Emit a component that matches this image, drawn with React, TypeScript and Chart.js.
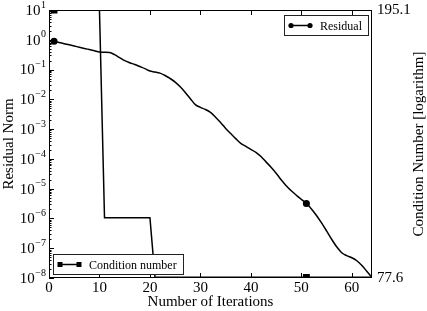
import React, { useEffect, useRef } from 'react';
import { Chart, registerables } from 'chart.js';

Chart.register(...registerables);

const iterations = [
  1, 2, 3, 4, 5, 6, 7, 8, 9, 10, 11, 12, 13, 14, 15, 16, 17, 18, 19, 20,
  21, 22, 23, 24, 25, 26, 27, 28, 29, 30, 31, 32, 33, 34, 35, 36, 37, 38, 39, 40,
  41, 42, 43, 44, 45, 46, 47, 48, 49, 50, 51, 52, 53, 54, 55, 56, 57, 58, 59, 60,
  61, 62, 63, 64,
];

const residual = [
  0.891, 0.813, 0.741, 0.676, 0.617, 0.562, 0.513, 0.468, 0.427, 0.389,
  0.380, 0.372, 0.316, 0.251, 0.200, 0.170, 0.148, 0.126, 0.107, 0.0891,
  0.0832, 0.0759, 0.0631, 0.0501, 0.0380, 0.0263, 0.0170, 0.0105, 6.61e-3, 5.37e-3,
  4.57e-3, 3.63e-3, 2.51e-3, 1.66e-3, 1.05e-3, 7.08e-4, 4.79e-4, 3.31e-4, 2.63e-4, 2.09e-4,
  1.66e-4, 1.20e-4, 7.94e-5, 5.25e-5, 3.31e-5, 2.0e-5, 1.26e-5, 8.51e-6, 6.03e-6, 4.37e-6,
  3.16e-6, 2.09e-6, 1.26e-6, 7.08e-7, 3.80e-7, 2.0e-7, 1.12e-7, 7.08e-8, 5.62e-8, 4.79e-8,
  3.80e-8, 2.63e-8, 1.66e-8, 1.05e-8,
];

const conditionNumber = [
  195.1, 195.1, 195.1, 195.1, 195.1, 195.1, 195.1, 195.1, 195.1, 195.1,
  104.0, 104.0, 104.0, 104.0, 104.0, 104.0, 104.0, 104.0, 104.0, 104.0,
  77.9, 77.9, 77.9, 77.9, 77.9, 77.9, 77.9, 77.9, 77.9, 77.9,
  77.9, 77.9, 77.9, 77.9, 77.9, 77.9, 77.9, 77.9, 77.9, 77.9,
  77.9, 77.9, 77.9, 77.9, 77.9, 77.9, 77.9, 77.9, 77.9, 77.9,
  77.9, 77.9, 77.9, 77.9, 77.9, 77.9, 77.9, 77.9, 77.9, 77.9,
  77.9, 77.9, 77.9, 77.9,
];

const markerIndices = [0, 50];
const xTicks = [0, 10, 20, 30, 40, 50, 60];
const residualExponents = [1, 0, -1, -2, -3, -4, -5, -6, -7, -8];
const residualMin = 1e-8;
const residualMax = 10;
const conditionTicks = [77.6, 195.1];
const rightTitle = 'Condition Number [logarithm]';

const FONT = "'Liberation Serif', 'DejaVu Serif', serif";

const overlayPlugin = {
  id: 'overlay',
  afterDraw(chart: any) {
    const ctx = chart.ctx as CanvasRenderingContext2D;
    const { left, right, top, bottom } = chart.chartArea;
    const xs = chart.scales.x;
    const ys = chart.scales.y;
    ctx.save();
    ctx.strokeStyle = '#000';
    ctx.lineWidth = 1;
    ctx.strokeRect(Math.round(left) + 0.5, Math.round(top) + 0.5, Math.round(right - left) - 1, Math.round(bottom - top) - 1);

    ctx.beginPath();
    for (const v of xTicks) {
      const px = Math.round(xs.getPixelForValue(v)) + 0.5;
      ctx.moveTo(px, bottom);
      ctx.lineTo(px, bottom - 5);
      ctx.moveTo(px, top);
      ctx.lineTo(px, top + 5);
    }
    for (let i = 0; i < residualExponents.length; i++) {
      const e = residualExponents[i];
      const base = Math.pow(10, e);
      const py = Math.round(ys.getPixelForValue(base)) + 0.5;
      ctx.moveTo(left, py);
      ctx.lineTo(left + 5, py);
      if (e < 1) {
        for (let m = 2; m <= 9; m++) {
          const pm = Math.round(ys.getPixelForValue(base * m)) + 0.5;
          ctx.moveTo(left, pm);
          ctx.lineTo(left + 2.5, pm);
        }
      }
    }
    ctx.stroke();

    ctx.fillStyle = '#000';
    for (const e of residualExponents) {
      const py = ys.getPixelForValue(Math.pow(10, e));
      const expText = e < 0 ? '\u2212' + String(-e) : String(e);
      ctx.font = `10px ${FONT}`;
      const ew = ctx.measureText(expText).width;
      const xEnd = left - 3;
      ctx.textAlign = 'right';
      ctx.textBaseline = 'middle';
      ctx.fillText(expText, xEnd, py - 5);
      ctx.font = `15px ${FONT}`;
      ctx.fillText('10', xEnd - ew - 0.5, py + 1);
    }

    // right axis title, reading bottom to top
    ctx.save();
    ctx.translate(419, (top + bottom) / 2);
    ctx.rotate(-Math.PI / 2);
    ctx.font = `15px ${FONT}`;
    ctx.textAlign = 'center';
    ctx.textBaseline = 'middle';
    ctx.fillText(rightTitle, 0, 0);
    ctx.restore();

    const drawLegend = (bx: number, by: number, label: string, style: 'circle' | 'rect', anchorRight: boolean) => {
      ctx.font = `12px ${FONT}`;
      const tw = ctx.measureText(label).width;
      const w = 8 + 18 + 10 + tw + 6;
      const h = 20;
      const x0 = anchorRight ? bx - w : bx;
      ctx.strokeStyle = '#222';
      ctx.lineWidth = 1;
      ctx.fillStyle = '#fff';
      ctx.fillRect(Math.round(x0) + 0.5, Math.round(by) + 0.5, Math.round(w), h);
      ctx.strokeRect(Math.round(x0) + 0.5, Math.round(by) + 0.5, Math.round(w), h);
      const ly = Math.round(by + h / 2) + 0.5;
      const lx1 = x0 + 7;
      const lx2 = x0 + 26;
      ctx.strokeStyle = '#000';
      ctx.lineWidth = 1.5;
      ctx.beginPath();
      ctx.moveTo(lx1, ly);
      ctx.lineTo(lx2, ly);
      ctx.stroke();
      ctx.fillStyle = '#000';
      for (const mx of [lx1, lx2]) {
        if (style === 'circle') {
          ctx.beginPath();
          ctx.arc(mx, ly, 2.6, 0, Math.PI * 2);
          ctx.fill();
        } else {
          ctx.fillRect(mx - 2.5, ly - 2.5, 5, 5);
        }
      }
      ctx.textAlign = 'left';
      ctx.textBaseline = 'middle';
      ctx.fillText(label, x0 + 36, ly + 1);
    };
    drawLegend(right - 4, top + 5, 'Residual', 'circle', true);
    drawLegend(left + 4, bottom - 24, 'Condition number', 'rect', false);
    ctx.restore();
  },
};

const noPad = (s: any) => {
  s.paddingTop = 0;
  s.paddingBottom = 0;
  s.paddingLeft = 0;
  s.paddingRight = 0;
};

export default function App() {
  const canvasRef = useRef<HTMLCanvasElement | null>(null);

  useEffect(() => {
    if (!canvasRef.current) return;
    const circleRadius = (c: any) => (markerIndices.includes(c.dataIndex) ? 2.8 : 0);
    const squareRadius = (c: any) => (markerIndices.includes(c.dataIndex) ? 3.8 : 0);
    const chart = new Chart(canvasRef.current, {
      type: 'line',
      data: {
        datasets: [
          {
            label: 'Residual',
            data: iterations.map((x, i) => ({ x, y: residual[i] })),
            yAxisID: 'y',
            borderColor: '#000',
            backgroundColor: '#000',
            borderWidth: 1.5,
            pointRadius: circleRadius,
            pointHoverRadius: 0,
            pointStyle: 'circle',
            cubicInterpolationMode: 'monotone',
          },
          {
            label: 'Condition number',
            data: iterations.map((x, i) => ({ x, y: conditionNumber[i] })),
            yAxisID: 'y2',
            borderColor: '#000',
            backgroundColor: '#000',
            borderWidth: 1.5,
            pointRadius: squareRadius,
            pointHoverRadius: 0,
            pointStyle: 'rect',
            tension: 0,
          },
        ],
      },
      options: {
        animation: false,
        responsive: false,
        maintainAspectRatio: false,
        events: [],
        layout: { padding: { top: 10, left: 0, right: 0, bottom: 0 } },
        plugins: { legend: { display: false }, tooltip: { enabled: false } },
        scales: {
          x: {
            type: 'linear',
            min: 0,
            max: 64,
            afterBuildTicks: (s: any) => {
              s.ticks = xTicks.map((v) => ({ value: v }));
            },
            afterFit: (s: any) => {
              s.height = 33;
              noPad(s);
            },
            ticks: {
              font: { family: FONT, size: 15 },
              color: '#000',
              padding: 1,
              maxRotation: 0,
              autoSkip: false,
            },
            grid: { display: false, drawTicks: false, tickLength: 0 },
            border: { display: false },
            title: {
              display: true,
              text: 'Number of Iterations',
              color: '#000',
              font: { family: FONT, size: 15 },
              padding: { top: 0, bottom: 0 },
            },
          },
          y: {
            type: 'logarithmic',
            position: 'left',
            min: residualMin,
            max: residualMax,
            afterFit: (s: any) => {
              s.width = 49;
              noPad(s);
            },
            ticks: { display: false },
            grid: { display: false, drawTicks: false, tickLength: 0 },
            border: { display: false },
            title: {
              display: true,
              text: 'Residual Norm',
              color: '#000',
              font: { family: FONT, size: 15 },
              padding: { top: 0, bottom: 0 },
            },
          },
          y2: {
            type: 'linear',
            position: 'right',
            min: conditionTicks[0],
            max: conditionTicks[1],
            afterBuildTicks: (s: any) => {
              s.ticks = conditionTicks.map((v) => ({ value: v }));
            },
            afterFit: (s: any) => {
              s.width = 55;
              noPad(s);
            },
            ticks: {
              font: { family: FONT, size: 15 },
              color: '#000',
              padding: 5,
              callback: (v: any) => Number(v).toFixed(1),
            },
            grid: { display: false, drawTicks: false, tickLength: 0 },
            border: { display: false },
            title: { display: false },
          },
        },
      },
      plugins: [overlayPlugin],
    } as any);
    return () => chart.destroy();
  }, []);

  return (
    <div style={{ position: 'absolute', left: 0, top: 0, width: 427, height: 311, background: '#fff' }}>
      <canvas ref={canvasRef} width={427} height={311} style={{ display: 'block' }} />
    </div>
  );
}
